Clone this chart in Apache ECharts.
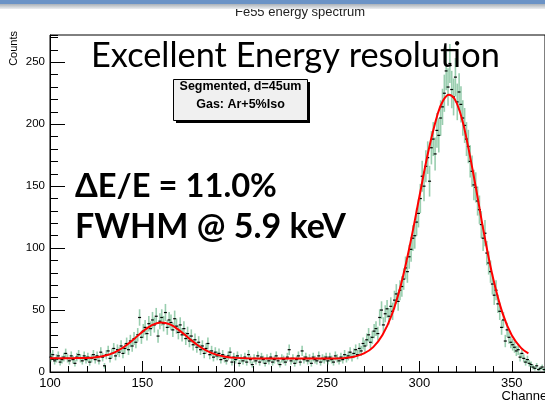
<!DOCTYPE html>
<html>
<head>
<meta charset="utf-8">
<script src="https://cdn.jsdelivr.net/npm/echarts@6/dist/echarts.min.js"></script>
<style>
html,body{margin:0;padding:0;background:#fff;}
#chart{width:545px;height:402px;}
</style>
</head>
<body>
<div id="chart"></div>
<script>
// ---- data ----
const firstChannel = 100;           // lower edge of first 1-channel bin
const counts = [
12,14,9,11,13,8,10,12,15,11,
9,13,10,7,12,14,11,9,13,10,
12,8,11,14,10,13,9,16,12,5,
14,17,11,15,19,13,18,16,21,15,
19,23,18,25,21,27,24,30,44,28,
33,36,31,39,35,42,38,45,29,41,
44,39,48,36,42,40,34,43,37,32,
38,30,35,27,31,25,29,22,26,20,
24,18,21,15,19,23,14,17,12,16,
13,15,10,14,11,9,13,16,8,12,
10,13,7,11,9,12,8,14,10,6,
11,9,13,8,12,10,7,11,9,12,
8,10,13,9,6,11,10,8,12,18,
9,11,7,10,13,8,17,10,12,9,
11,7,12,10,9,13,8,11,10,12,
9,12,10,8,13,11,9,12,10,14,
11,13,16,12,15,18,14,19,17,23,
21,26,30,24,28,33,35,31,44,50,
38,47,51,45,53,49,58,63,57,66,
69,75,84,81,93,99,108,110,121,128,
140,158,150,166,173,154,181,188,176,195,
191,205,214,225,243,230,249,228,222,238,
218,226,216,205,199,188,182,170,162,151,
149,138,131,119,108,112,96,88,81,71,
62,66,55,49,36,42,25,34,28,24,
22,20,17,18,12,15,11,8,10,7,
6,4,3,5,2,3,4,2
];
const fitX = [100,105,110,115,120,125,130,135,140,145,150,155,160,165,170,175,180,185,190,195,200,210,220,230,240,250,255,260,265,270,275,280,285,290,295,300,305,310,313,316,319,322,325,330,335,340,345,350,355,359];
const fitY = [11.0,11.0,11.1,11.2,11.3,11.9,13.3,15.9,20.2,26.0,32.4,37.7,40.0,38.4,33.6,27.5,21.6,17.0,14.0,12.3,11.4,10.9,10.8,10.8,10.8,10.8,10.9,11.4,12.5,15.0,20.1,29.8,46.0,70.5,103.4,141.6,179.2,208.8,219.6,223.8,220.5,209.6,192.0,153.5,111.7,75.0,47.5,29.6,19.5,15.1];
const xRange = [100, 368];
const yRange = [0, 272];
const majorStep = 50, minorStep = 10;
const titleText = 'Fe55 energy spectrum';
const xName = 'Channel';
const yName = 'Counts';
const paveLines = ['Segmented, d=45um', 'Gas: Ar+5%Iso'];
const slideLines = ['Excellent Energy resolution', 'ΔE/E = 11.0%', 'FWHM @ 5.9 keV'];

// ---- build ----
const histData = counts.map((v, i) => [firstChannel + i + 0.5, v, Math.sqrt(v)]);
const fitData = fitX.map((x, i) => [x, fitY[i]]);

function fitSize(text, weight, family, width) {
  const ctx = document.createElement('canvas').getContext('2d');
  ctx.font = weight + ' 100px ' + family;
  return 100 * width / ctx.measureText(text).width;
}
const bigFont = 'Lato';
const s1 = fitSize(slideLines[0], 'normal', bigFont, 409);
const s2 = fitSize(slideLines[1], 'bold', bigFont, 202);
const s3 = fitSize(slideLines[2], 'bold', bigFont, 271);

function txt(text, x, y, size, opts) {
  opts = opts || {};
  return {
    type: 'text', x: x, y: y, z: opts.z || 100, rotation: opts.rotation || 0,
    silent: true,
    style: {
      text: text, x: 0, y: 0,
      fontSize: size, fontWeight: opts.weight || 'normal',
      fontFamily: opts.family || 'Liberation Sans',
      fill: opts.color || '#000',
      align: opts.align || 'left', textAlign: opts.align || 'left',
      verticalAlign: 'middle', textVerticalAlign: 'middle'
    }
  };
}

const chart = echarts.init(document.getElementById('chart'), null, {renderer: 'canvas'});
const axisCommon = {
  type: 'value',
  axisLine: {show: true, lineStyle: {color: '#000', width: 1}},
  splitLine: {show: false}
};
chart.setOption({
  animation: false,
  backgroundColor: '#fff',
  grid: {left: 50, right: -7, top: 35, bottom: 30, show: true, borderColor: '#000', borderWidth: 1, backgroundColor: 'transparent'},
  xAxis: [
    Object.assign({}, axisCommon, {
      min: xRange[0], max: xRange[1], interval: majorStep, position: 'bottom',
      axisTick: {show: true, inside: true, length: 11, lineStyle: {color: '#000'}},
      axisLabel: {show: true, color: '#000', fontSize: 13, fontFamily: 'Liberation Sans', margin: 5, showMaxLabel: false}
    }),
    Object.assign({}, axisCommon, {
      min: xRange[0], max: xRange[1], interval: minorStep, position: 'bottom',
      axisLine: {show: false},
      axisTick: {show: true, inside: true, length: 6, lineStyle: {color: '#000'}},
      axisLabel: {show: false}
    })
  ],
  yAxis: [
    Object.assign({}, axisCommon, {
      min: yRange[0], max: yRange[1], interval: majorStep, position: 'left',
      axisTick: {show: true, inside: true, length: 15, lineStyle: {color: '#000'}},
      axisLabel: {show: true, color: '#000', fontSize: 11.5, fontFamily: 'Liberation Sans', margin: 5, showMaxLabel: false}
    }),
    Object.assign({}, axisCommon, {
      min: yRange[0], max: yRange[1], interval: minorStep, position: 'left', offset: 0,
      axisLine: {show: false},
      axisTick: {show: true, inside: true, length: 8, lineStyle: {color: '#000'}},
      axisLabel: {show: false}
    })
  ],
  series: [
    {
      type: 'custom', xAxisIndex: 0, yAxisIndex: 0, data: histData, z: 2,
      renderItem: function (params, api) {
        const x = api.value(0), y = api.value(1), e = api.value(2);
        const p = api.coord([x, y]);
        const lo = api.coord([x, Math.max(0, y - e)]);
        const hi = api.coord([x, y + e]);
        return {type: 'group', children: [
          {type: 'line', shape: {x1: p[0], y1: lo[1], x2: p[0], y2: hi[1]}, style: {stroke: 'rgba(70,165,110,0.55)', lineWidth: 1.6}},
          {type: 'line', shape: {x1: p[0] - 1.5, y1: p[1], x2: p[0] + 1.5, y2: p[1]}, style: {stroke: '#000', lineWidth: 1.2}}
        ]};
      }
    },
    {
      type: 'line', xAxisIndex: 0, yAxisIndex: 0, data: fitData, z: 3,
      smooth: 0.4, showSymbol: false, symbol: 'none',
      lineStyle: {color: '#ff0000', width: 2}
    }
  ],
  graphic: [
    txt(titleText, 300, 12, 13, {color: '#222', align: 'center'}),
    {type: 'rect', silent: true, z: 101, shape: {x: 0, y: 0, width: 545, height: 4}, style: {fill: '#6b93c6'}},
    {type: 'rect', silent: true, z: 101, shape: {x: 0, y: 4, width: 545, height: 5},
      style: {fill: new echarts.graphic.LinearGradient(0, 0, 0, 1, [{offset: 0, color: '#a9b0b8'}, {offset: 1, color: '#eceef0'}])}},
    txt(yName, 14, 31, 11, {rotation: Math.PI / 2, align: 'right'}),
    txt(xName, 550, 396, 13, {align: 'right'}),
    {type: 'rect', silent: true, z: 100, shape: {x: 176, y: 82, width: 134, height: 41}, style: {fill: '#000'}},
    {type: 'rect', silent: true, z: 101, shape: {x: 173.5, y: 79.5, width: 134, height: 41}, style: {fill: '#f0f0f0', stroke: '#000', lineWidth: 1}},
    txt(paveLines[0], 240.5, 87, 12.5, {weight: 'bold', align: 'center', z: 102}),
    txt(paveLines[1], 240.5, 105, 12.5, {weight: 'bold', align: 'center', z: 102}),
    txt(slideLines[0], 91, 56, s1, {family: bigFont, z: 103}),
    txt(slideLines[1], 75, 186, s2, {family: bigFont, weight: 'bold', z: 103}),
    txt(slideLines[2], 75, 227, s3, {family: bigFont, weight: 'bold', z: 103})
  ]
});
</script>
</body>
</html>
